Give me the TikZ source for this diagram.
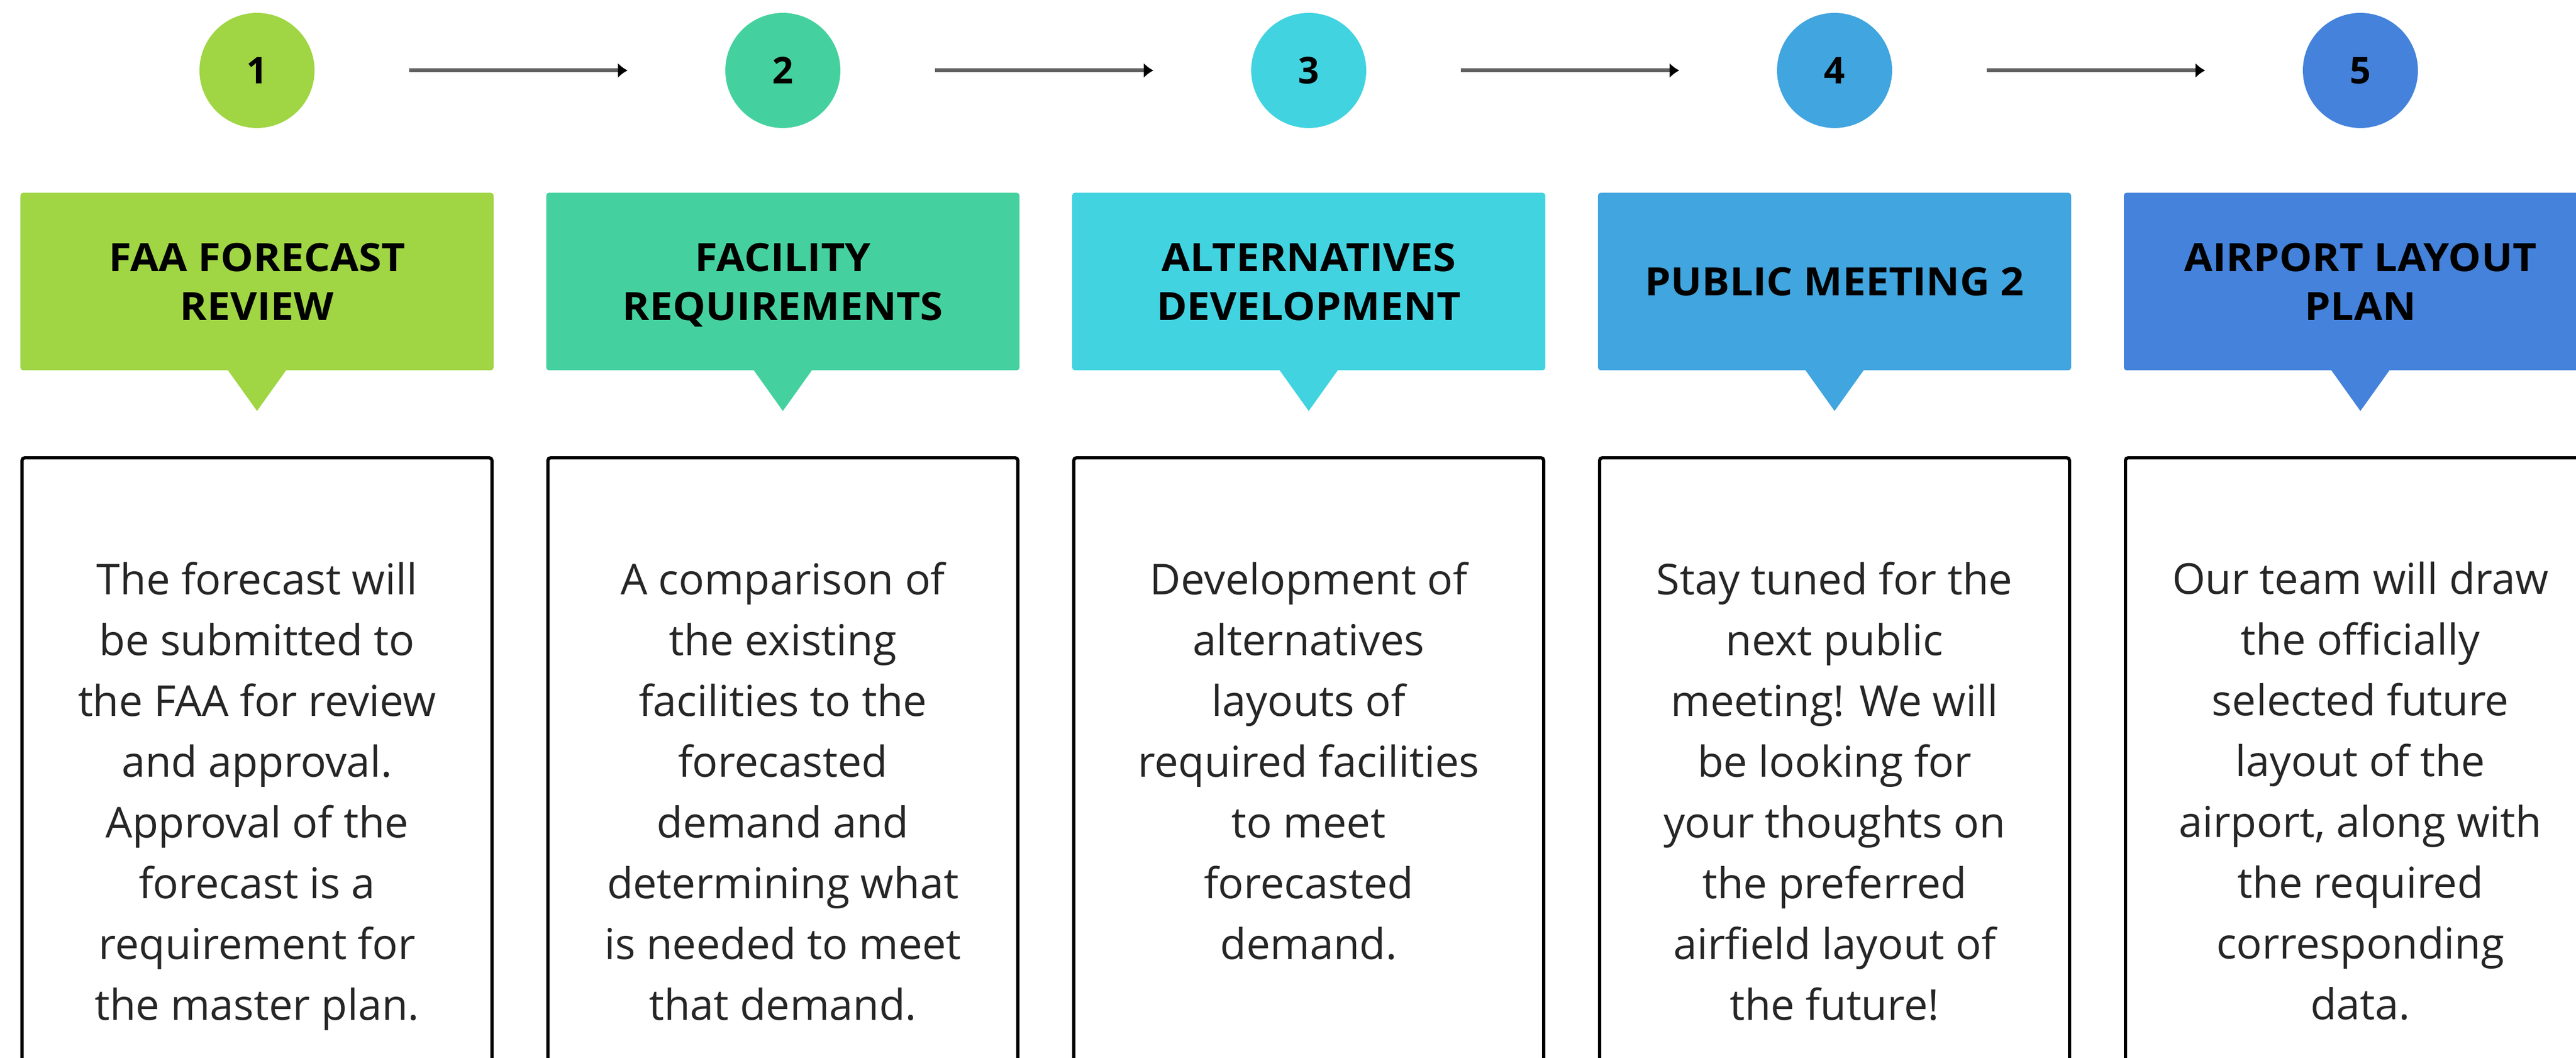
\documentclass[tikz,border=0pt]{standalone}
\usepackage{fontspec}
\setmainfont{Open Sans}
\newfontfamily\headfont{Open Sans}[FakeStretch=1.06]
\usepackage{xcolor}
\usetikzlibrary{
		positioning,
		arrows.meta
	}
\tikzset{
		>=stealth
	}
\definecolor{stepA}{HTML}{A0D544}
\definecolor{stepB}{HTML}{45D19F}
\definecolor{stepC}{HTML}{42D3E0}
\definecolor{stepD}{HTML}{41A5DF}
\definecolor{stepE}{HTML}{4482DB}
\definecolor{bodytext}{HTML}{262626}
\definecolor{linkgray}{HTML}{5E5E5E}

\begin{document}
\begin{tikzpicture}[num/.style={circle, minimum size=2.14cm, inner sep=0pt, font=\fontsize{19.5}{24}\selectfont\bfseries},
					heading/.style={rectangle, rounded corners=0.05cm, minimum width=8.8cm, minimum height=3.3cm, inner sep=0pt, align=center, text depth=0pt, font=\headfont\fontsize{20.6}{25.9}\selectfont\bfseries},
					frame/.style={draw=black, line width=0.06cm, rounded corners=0.05cm, minimum width=8.74cm, minimum height=14cm, inner sep=0pt, outer sep=0pt},
					body/.style={align=center, inner sep=0pt, text=bodytext, font=\fontsize{22.5}{32.15}\selectfont},
					link/.style={draw=linkgray, line width=0.07cm, -{Latex[length=0.18cm, width=0.28cm, color=black]}, shorten <=1.75cm, shorten >=1.81cm}]
		\useasboundingbox (0,0) rectangle (47.91,-19.67);
		\clip (0,0) rectangle (47.91,-19.67);
		% numbered steps
		\node[num, fill=stepA] (n1) at (4.78,-1.31) {1};
		\node[num, fill=stepB] (n2) at (14.56,-1.31) {2};
		\node[num, fill=stepC] (n3) at (24.34,-1.31) {3};
		\node[num, fill=stepD] (n4) at (34.12,-1.31) {4};
		\node[num, fill=stepE] (n5) at (43.90,-1.31) {5};
		\draw[link] (n1) -- (n2);
		\draw[link] (n2) -- (n3);
		\draw[link] (n3) -- (n4);
		\draw[link] (n4) -- (n5);
		% headings
		\node[heading, fill=stepA, below=1.19cm of n1] (h1) {FAA FORECAST\\REVIEW};
		\node[heading, fill=stepB, below=1.19cm of n2] (h2) {FACILITY\\REQUIREMENTS};
		\node[heading, fill=stepC, below=1.19cm of n3] (h3) {ALTERNATIVES\\DEVELOPMENT};
		\node[heading, fill=stepD, below=1.19cm of n4] (h4) {PUBLIC MEETING 2};
		\node[heading, fill=stepE, below=1.19cm of n5] (h5) {AIRPORT LAYOUT\\PLAN};
		\fill[stepA] ([xshift=-0.55cm, yshift=0.02cm]h1.south) -- ([xshift=0.55cm, yshift=0.02cm]h1.south) -- ([yshift=-0.75cm]h1.south) -- cycle;
		\fill[stepB] ([xshift=-0.55cm, yshift=0.02cm]h2.south) -- ([xshift=0.55cm, yshift=0.02cm]h2.south) -- ([yshift=-0.75cm]h2.south) -- cycle;
		\fill[stepC] ([xshift=-0.55cm, yshift=0.02cm]h3.south) -- ([xshift=0.55cm, yshift=0.02cm]h3.south) -- ([yshift=-0.75cm]h3.south) -- cycle;
		\fill[stepD] ([xshift=-0.55cm, yshift=0.02cm]h4.south) -- ([xshift=0.55cm, yshift=0.02cm]h4.south) -- ([yshift=-0.75cm]h4.south) -- cycle;
		\fill[stepE] ([xshift=-0.55cm, yshift=0.02cm]h5.south) -- ([xshift=0.55cm, yshift=0.02cm]h5.south) -- ([yshift=-0.75cm]h5.south) -- cycle;
		% description boxes
		\node[frame, below=1.62cm of h1] (f1) {};
		\node[frame, below=1.62cm of h2] (f2) {};
		\node[frame, below=1.62cm of h3] (f3) {};
		\node[frame, below=1.62cm of h4] (f4) {};
		\node[frame, below=1.62cm of h5] (f5) {};
		\node[body, below=1.93cm of f1.north] (t1) {The forecast will\\be submitted to\\the FAA for review\\and approval.\\Approval of the\\forecast is a\\requirement for\\the master plan.};
		\node[body, below=1.93cm of f2.north] (t2) {A comparison of\\the existing\\facilities to the\\forecasted\\demand and\\determining what\\is needed to meet\\that demand.};
		\node[body, below=1.93cm of f3.north] (t3) {Development of\\alternatives\\layouts of\\required facilities\\to meet\\forecasted\\demand.};
		\node[body, below=1.93cm of f4.north] (t4) {Stay tuned for the\\next public\\meeting! We will\\be looking for\\your thoughts on\\the preferred\\airfield layout of\\the future!};
		\node[body, below=1.93cm of f5.north] (t5) {Our team will draw\\the officially\\selected future\\layout of the\\airport, along with\\the required\\corresponding\\data.};
	\end{tikzpicture}
\end{document}
